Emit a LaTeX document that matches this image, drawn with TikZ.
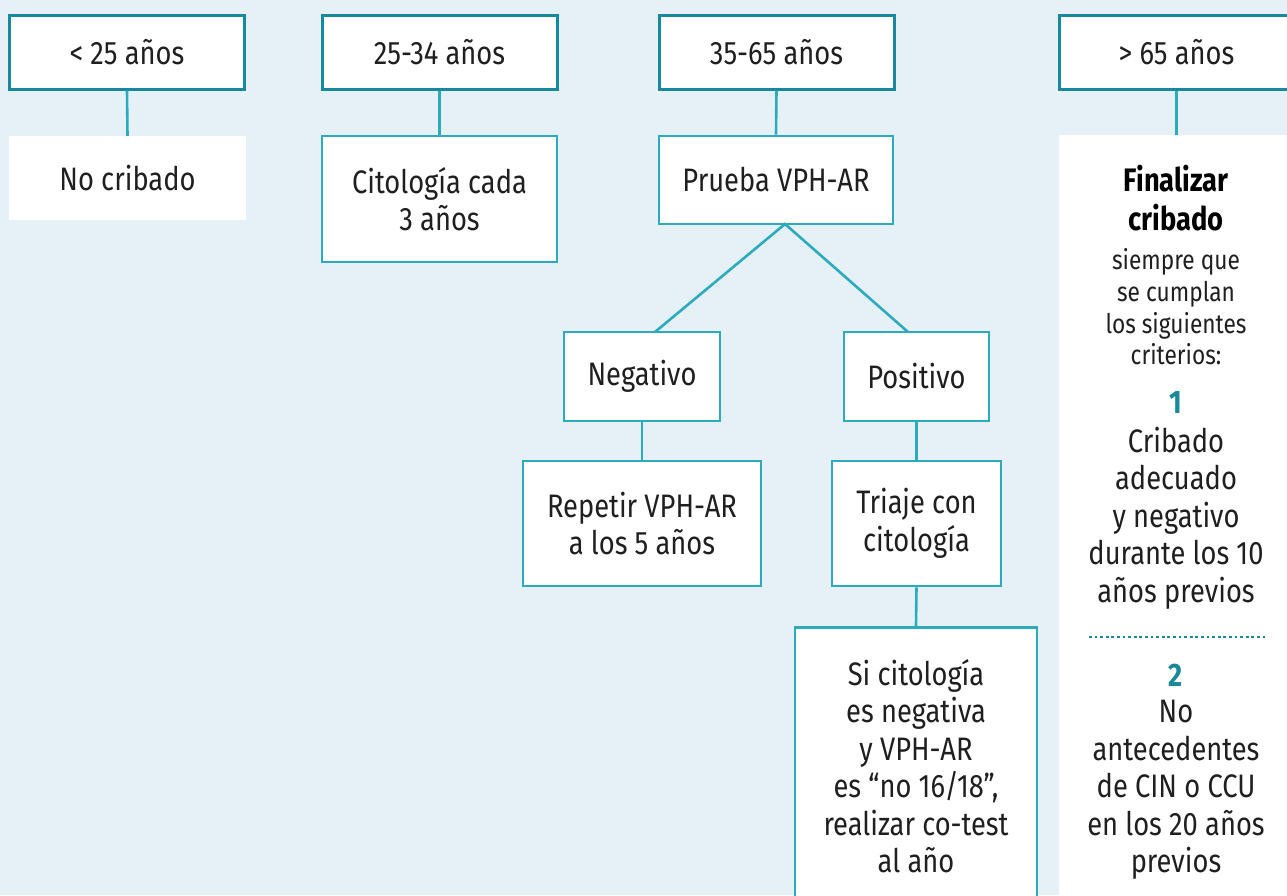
\documentclass[tikz,border=0pt]{standalone}
\usepackage{fontspec}
\setmainfont{Fira Sans}[FakeStretch=0.84]
\definecolor{bgblue}{HTML}{E6F1F7}
\definecolor{tealdark}{HTML}{168A9C}
\definecolor{teallight}{HTML}{2CABBF}
\definecolor{tealnum}{HTML}{17899B}
\tikzset{
  bigtext/.style={font=\fontsize{32.5}{37.5}\selectfont, text=black!88},
  agebox/.style={bigtext, draw=tealdark, line width=3pt, fill=white,
    minimum width=235pt, minimum height=74pt, inner sep=0pt},
  stepbox/.style={bigtext, draw=teallight, line width=2.6pt, fill=white,
    inner sep=0pt, align=center},
  plainbox/.style={bigtext, fill=white, inner sep=0pt, align=center},
  link/.style={draw=teallight, line width=2.6pt},
  smalltext/.style={font=\fontsize{27}{31.7}\selectfont, text=black!88, align=center},
  numtext/.style={font=\fontsize{32.5}{37.5}\selectfont\bfseries, text=tealnum},
}
\begin{document}
\begin{tikzpicture}[x=1pt,y=-1pt]
\useasboundingbox (0,0) rectangle (1287,895);
\clip (0,0) rectangle (1287,895);
\fill[bgblue] (0,0) rectangle (1287,895);

% age groups
\node[agebox] (a1) at (127,52) {< 25 años};
\node[agebox] (a2) at (439.5,52) {25-34 años};
\node[agebox] (a3) at (776.5,52) {35-65 años};
\node[agebox] (a4) at (1176.5,52) {> 65 años};

% first level
\node[plainbox, minimum width=237pt, minimum height=84pt] (n1) at (127.5,178) {No cribado};
\node[stepbox, minimum width=235pt, minimum height=126pt] (c2) at (439.5,199) {Citología cada\\3 años};
\node[stepbox, minimum width=234pt, minimum height=88pt] (p3) at (776,180) {Prueba VPH-AR};

% HPV test branches
\node[stepbox, minimum width=156pt, minimum height=89pt] (neg) at (642,376.5) {Negativo};
\node[stepbox, minimum width=145pt, minimum height=89pt] (pos) at (916.5,376.5) {Positivo};
\node[stepbox, minimum width=238pt, minimum height=125pt] (rep) at (642,523.5) {Repetir VPH-AR\\a los 5 años};
\node[stepbox, minimum width=169pt, minimum height=125pt] (tri) at (916.5,523.5) {Triaje con\\citología};
\node[stepbox, minimum width=242pt, minimum height=300pt, anchor=north] (sibox) at (916,626) {};
\node[bigtext, align=center] (sitext) at (916,766) {Si citología\\es negativa\\y VPH-AR\\es “no 16/18”,\\realizar co-test\\al año};

% end of screening panel
\node[fill=white, minimum width=235pt, minimum height=770pt, inner sep=0pt, anchor=north] (fin) at (1176.5,135) {};
\node[font=\fontsize{32.5}{38.5}\selectfont\bfseries, align=center] (fintitle) at (1176,198) {Finalizar\\cribado};
\node[smalltext] (fincond) at (1176,307) {siempre que\\se cumplan\\los siguientes\\criterios:};
\node[numtext] (num1) at (1176,403) {1};
\node[bigtext, align=center] (crit1) at (1176,518) {Cribado\\adecuado\\y negativo\\durante los 10\\años previos};
\coordinate (dotl) at (1089,637);
\coordinate (dotr) at (1266,637);
\draw[tealnum, line width=2.8pt, dash pattern=on 2.8pt off 2.8pt] (dotl) -- (dotr);
\node[numtext] (num2) at (1176,675) {2};
\node[bigtext, align=center] (crit2) at (1176,790) {No\\antecedentes\\de CIN o CCU\\en los 20 años\\previos};

% connectors
\draw[link] (a1.south) -- (n1.north);
\draw[link] (a2.south) -- (c2.north);
\draw[link] (a3.south) -- (p3.north);
\draw[link] (a4.south) -- (fin.north);
\coordinate (apex) at (785,224);
\coordinate (negtop) at (655,332);
\coordinate (postop) at (908,332);
\draw[link] (negtop) -- (apex) -- (postop);
\draw[link] (neg.south) -- (rep.north);
\draw[link] (pos.south) -- (tri.north);
\draw[link] (tri.south) -- (sibox.north);
\end{tikzpicture}
\end{document}
